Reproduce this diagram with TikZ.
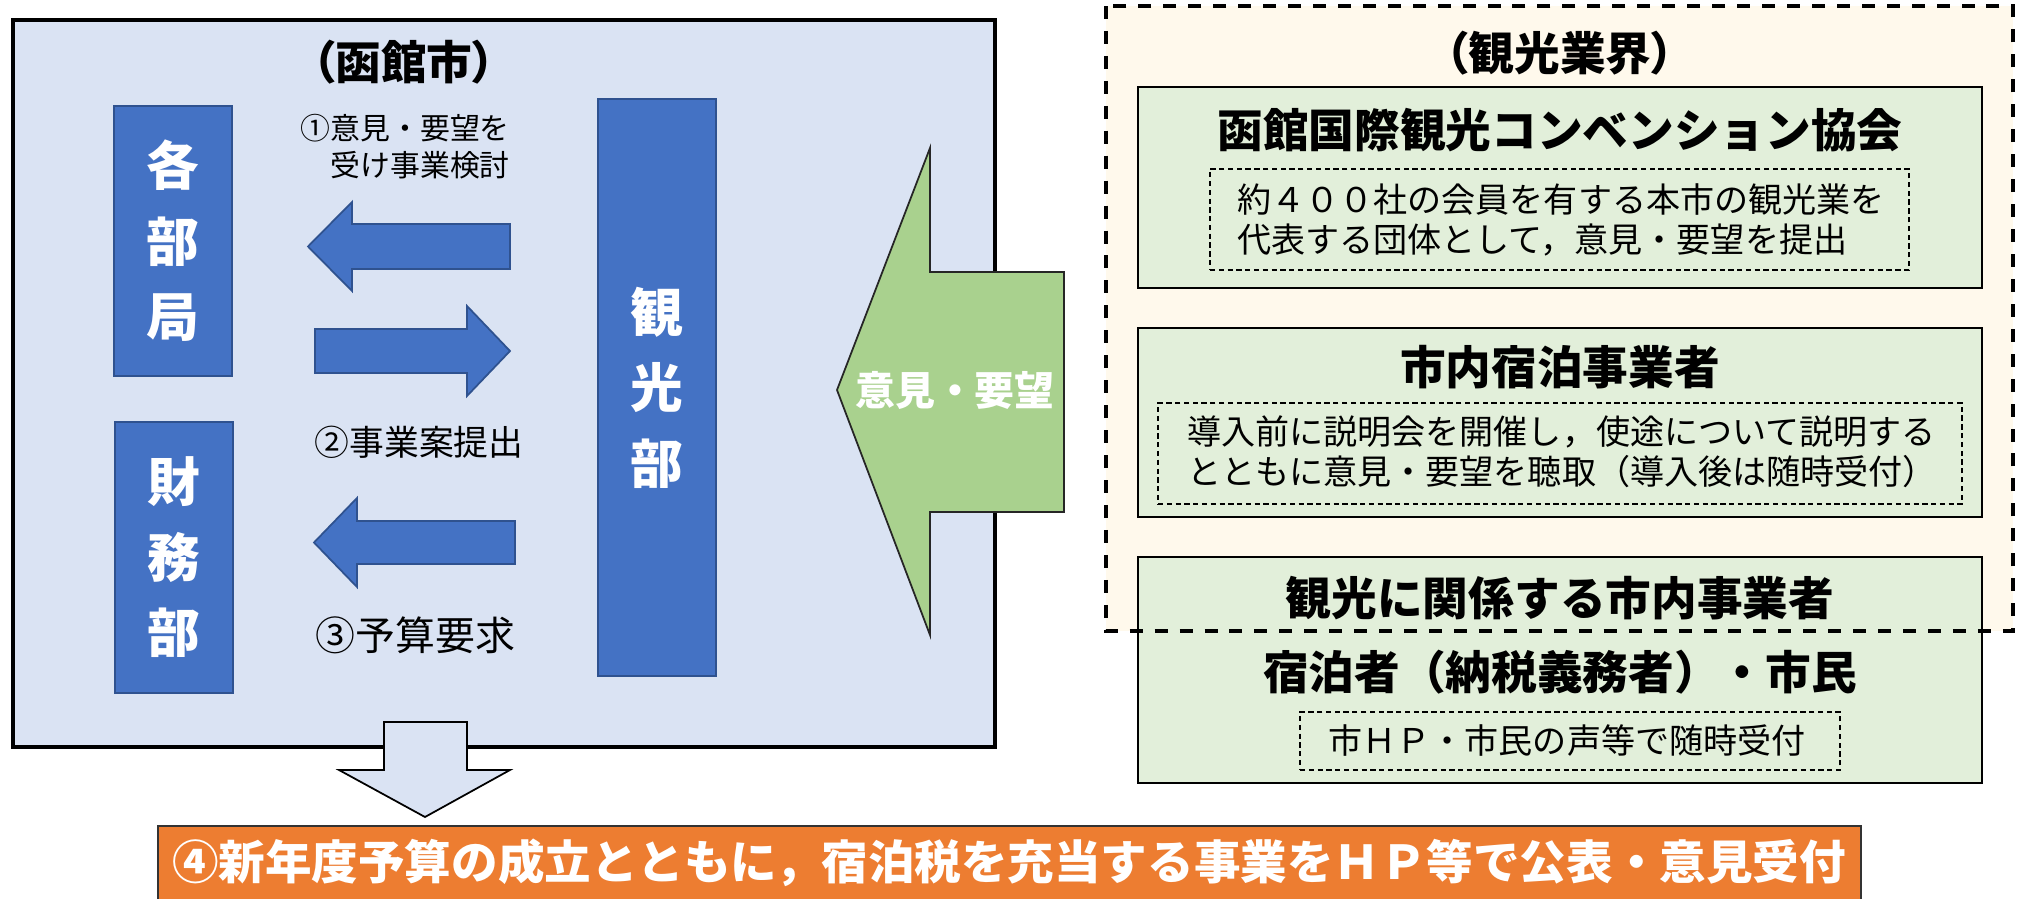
\documentclass[tikz,border=0pt]{standalone}
\usepackage{fontspec}
\setmainfont{Noto Sans CJK JP}
\newfontfamily\paltfont{Noto Sans CJK JP}[RawFeature=+palt]
\usetikzlibrary{positioning}
\newcommand\unitpx{0.02cm}
\definecolor{cityfill}{HTML}{DAE3F3}
\definecolor{deptblue}{HTML}{4472C4}
\definecolor{deptline}{HTML}{2F528F}
\definecolor{voicegreen}{HTML}{A9D18E}
\definecolor{groupcream}{HTML}{FFF9EC}
\definecolor{orggreen}{HTML}{E2EFDA}
\definecolor{budgetorange}{HTML}{ED7D31}

\begin{document}
\begin{tikzpicture}[x=\unitpx,y=-\unitpx,
    box/.style={inner sep=0,outer sep=0},
    dept/.style={box,fill=deptblue,draw=deptline,line width=1pt,text=white,align=center,
      font=\bfseries\fontsize{30pt}{43pt}\selectfont},
    flow/.style={fill=deptblue,draw=deptline,line width=1pt},
    org/.style={box,fill=orggreen,draw=black,line width=1.5pt},
    memo/.style={box,draw=black,densely dashed,line width=0.7pt},
    head/.style={font=\paltfont\bfseries\fontsize{26pt}{30pt}\selectfont},
    orgname/.style={font=\bfseries\fontsize{26pt}{30pt}\selectfont},
    memotext/.style={align=left,font=\fontsize{19.4pt}{22.7pt}\selectfont}]
    \useasboundingbox (0,0) rectangle (2019,899);

    \node[box,fill=cityfill,draw=black,line width=1.9pt,minimum width=982*\unitpx,minimum height=727*\unitpx] (city) at (504,383.5) {};
    \node[head] (citytitle) at (404,62) {（函館市）};
    \node[dept,minimum width=118*\unitpx,minimum height=270*\unitpx] (kakubu) at (173,241) {各\\部\\局};
    \node[dept,minimum width=118*\unitpx,minimum height=271*\unitpx] (zaimu) at (174,557.5) {財\\務\\部};
    \node[dept,minimum width=118*\unitpx,minimum height=577*\unitpx] (kanko) at (657,387.5) {観\\光\\部};

    \coordinate (ask) at (510,246.5);
    \draw[flow] (ask) ++(0,-22.5) -- ++(-158,0) -- ++(0,-22) -- ++(-44,44.5) -- ++(44,44.5) -- ++(0,-22) -- ++(158,0) -- cycle;
    \coordinate (plan) at (315,351);
    \draw[flow] (plan) ++(0,-22) -- ++(152,0) -- ++(0,-23) -- ++(43,45) -- ++(-43,45) -- ++(0,-23) -- ++(-152,0) -- cycle;
    \coordinate (budget) at (515,542.5);
    \draw[flow] (budget) ++(0,-21.5) -- ++(-158,0) -- ++(0,-23) -- ++(-43,44.5) -- ++(43,44.5) -- ++(0,-23) -- ++(158,0) -- cycle;

    \node[align=right,font=\fontsize{17pt}{21pt}\selectfont,anchor=east] (step1) at (516,146.5) {①意見・要望を\\受け事業検討};
    \node[font=\fontsize{19.8pt}{24pt}\selectfont] (step2) at (419,442) {②事業案提出};
    \node[font=\fontsize{22.7pt}{27pt}\selectfont] (step3) at (415.5,635) {③予算要求};

    \coordinate (release) at (425.5,722);
    \draw[fill=cityfill,draw=black,line width=1pt] (release) ++(-41.5,0) -- ++(83,0) -- ++(0,48) -- ++(43,0) -- ++(-85,47) -- ++(-86,-47) -- ++(45,0) -- cycle;

    \node[box,fill=budgetorange,draw=black!80,line width=1pt,minimum width=1703*\unitpx,minimum height=77*\unitpx] (publish) at (1009.5,864.5) {};
    \node[text=white,font=\bfseries\fontsize{26.5pt}{30pt}\selectfont] (publishtext) at (1009,863) {④新年度予算の成立とともに，宿泊税を充当する事業をＨＰ等で公表・意見受付};

    \coordinate (voice) at (1064,272);
    \draw[fill=voicegreen,draw=black!85,line width=1pt] (voice) -- ++(-134,0) -- ++(0,-124) -- ++(-93,242) -- ++(93,245) -- ++(0,-123) -- ++(134,0) -- cycle;
    \node[text=white,font=\bfseries\fontsize{22.7pt}{26pt}\selectfont] (voicetext) at (955,390) {意見・要望};

    \node[box,fill=groupcream,minimum width=907*\unitpx,minimum height=625*\unitpx] (group) at (1559.5,318.5) {};
    \node[head] (grouptitle) at (1560,53) {（観光業界）};

    \node[org,minimum width=844*\unitpx,minimum height=201*\unitpx] (convention) at (1560,187.5) {};
    \node[orgname] (conventionname) at (1560,130) {函館国際観光コンベンション協会};
    \node[memo,minimum width=699*\unitpx,minimum height=101*\unitpx] (conventionmemo) at (1559.5,219.5) {};
    \node[memotext] (conventiontext) at (1561,220) {約４００社の会員を有する本市の観光業を\\代表する団体として，意見・要望を提出};

    \node[org,minimum width=844*\unitpx,minimum height=189*\unitpx] (hotel) at (1560,422.5) {};
    \node[orgname] (hotelname) at (1560,367) {市内宿泊事業者};
    \node[memo,minimum width=804*\unitpx,minimum height=101*\unitpx] (hotelmemo) at (1560,453.5) {};
    \node[memotext] (hoteltext) at (1562,452) {導入前に説明会を開催し，使途について説明する\\とともに意見・要望を聴取（導入後は随時受付）};

    \node[org,minimum width=844*\unitpx,minimum height=226*\unitpx] (citizen) at (1560,670) {};
    \node[orgname] (businessname) at (1560,598) {観光に関係する市内事業者};
    \node[orgname] (citizenname) at (1560,672) {宿泊者（納税義務者）・市民};
    \node[memo,minimum width=540*\unitpx,minimum height=58*\unitpx] (citizenmemo) at (1570,741) {};
    \node[memotext] (citizentext) at (1567,741) {市ＨＰ・市民の声等で随時受付};

    \draw[line width=2.3pt,dash pattern=on 7.4pt off 6.8pt] (group.north west) rectangle (group.south east);
\end{tikzpicture}
\end{document}
